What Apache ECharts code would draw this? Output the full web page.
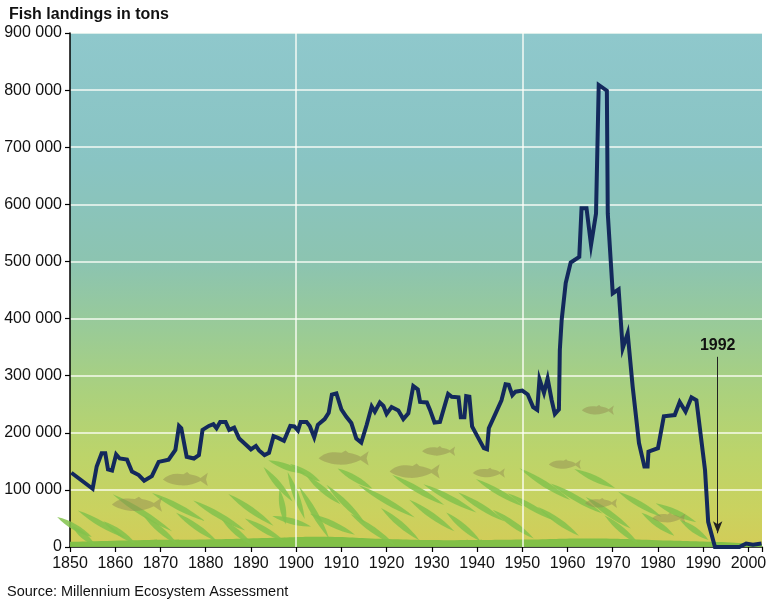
<!DOCTYPE html>
<html><head><meta charset="utf-8">
<script src="https://cdn.jsdelivr.net/npm/echarts@6/dist/echarts.min.js"></script>
<style>html,body{margin:0;padding:0;background:#fff}#c{width:773px;height:600px}</style>
</head><body><div id="c"></div>
<script>
// ---- data (years, landings in thousand tons) ----
const years = [1850.3,1855.0,1855.9,1857.0,1857.8,1858.4,1859.3,1860.2,1861.0,1862.6,1863.7,1865.2,1866.4,1868.1,1869.6,1871.8,1873.3,1874.1,1874.6,1875.8,1877.4,1878.5,1879.3,1880.7,1881.7,1882.4,1883.2,1884.4,1885.2,1886.3,1887.4,1888.9,1890.0,1891.1,1891.8,1893.0,1894.0,1895.0,1896.0,1897.3,1898.7,1899.6,1900.4,1901.0,1902.3,1903.0,1904.0,1904.8,1906.3,1907.2,1907.9,1908.9,1910.0,1911.1,1912.2,1913.3,1914.4,1915.6,1916.7,1917.4,1918.5,1919.3,1920.0,1921.1,1922.6,1923.7,1924.8,1925.9,1926.9,1927.4,1928.9,1929.6,1930.6,1931.8,1933.6,1934.4,1935.9,1936.4,1937.2,1937.6,1938.3,1938.9,1940.2,1941.5,1942.2,1942.6,1944.1,1945.4,1946.3,1947.0,1947.8,1948.5,1950.0,1951.2,1952.4,1953.3,1953.8,1954.8,1955.6,1956.5,1957.2,1958.1,1958.3,1958.7,1959.6,1960.7,1962.6,1963.1,1964.2,1965.2,1966.3,1966.9,1968.7,1968.9,1970.0,1971.3,1972.2,1973.3,1974.4,1975.8,1977.0,1977.7,1977.9,1980.0,1981.3,1983.7,1984.8,1986.1,1987.4,1988.5,1990.4,1991.1,1992.6,1998.0,1999.5,2001.0,2002.9];
const landingsK = [130,102,141,164,164,136,134,162,155,153,132,126,116,124,149,153,170,212,208,158,155,161,205,212,215,208,219,219,205,209,190,179,171,177,169,161,165,194,191,186,212,211,204,219,219,212,192,214,224,235,267,269,241,228,217,190,183,214,246,237,253,247,233,245,239,224,234,282,276,254,253,240,218,219,268,263,262,227,227,264,263,211,192,173,171,208,234,257,285,284,266,272,274,267,245,240,294,270,295,257,233,241,345,397,462,498,508,593,593,529,584,809,799,584,444,451,348,374,281,182,141,141,167,173,229,231,254,237,262,257,135,44,0,0,6,4,6];
const yTicks = [0,100000,200000,300000,400000,500000,600000,700000,800000,900000];
const xTicksYears = [1850,1860,1870,1880,1890,1900,1910,1920,1930,1940,1950,1960,1970,1980,1990,2000];
const annotationYear = 1993.2, annotationLabel = '1992';
// decorations (fish & seaweed) positioned in data units
const fishYears  = [1864.8,1875.5,1910.5,1926.2,1931.5,1942.6,1966.7,1959.4,1967.4,1982.4];
const fishValsK  = [75,119,156,133,168,130,240,145,77,51];
const fishW      = [50,45,50,50,33,32,32,32,32,33];
const leafYears = [1851,1853,1857,1861,1866,1870,1874,1878,1883,1887,1890,1893,1896,1898,1900,1902,1904,1906,1908,1911,1913,1899,1897,1917,1920,1923,1927,1930,1934,1937,1941,1945,1948,1952,1955,1958,1962,1966,1969,1972,1976,1980,1984,1988];
const leafValsK = [35,20,40,25,60,30,70,35,55,25,65,30,110,140,90,130,60,100,40,75,120,45,70,30,80,40,100,55,85,35,70,95,40,70,110,45,85,120,60,30,75,40,60,30];
const leafRot   = [60,50,60,55,58,50,62,55,60,50,55,60,40,70,20,60,30,50,65,45,60,75,10,55,60,50,60,55,62,50,58,60,55,60,58,55,60,65,55,50,60,55,65,55];
const leafLen   = [40,30,55,40,70,45,60,50,60,40,55,45,45,40,50,35,60,45,50,55,40,40,35,55,65,50,60,55,60,45,55,55,50,55,60,50,60,45,55,45,50,40,45,35];
const bandYears = [1850,1865,1880,1895,1905,1920,1935,1950,1965,1980,1992,2003];
const bandValsK = [9,12,13,16,18,14,12,13,15,12,9,5];

const fmt = v => v === 0 ? '0' : String(v).replace(/\B(?=(\d{3})+(?!\d))/g, ' ');
const FONT = '"Liberation Sans", Arial, Helvetica, sans-serif';

const lineData = years.map((y, i) => [y, landingsK[i] * 1000]);
const fishData = fishYears.map((y, i) => ({value: [y, fishValsK[i] * 1000], symbolSize: [fishW[i], Math.round(fishW[i] * 0.3)]}));
const leafData = leafYears.map((y, i) => ({value: [y, leafValsK[i] * 1000], symbolRotate: leafRot[i], symbolSize: [6, leafLen[i]]}));
const bandData = bandYears.map((y, i) => [y, bandValsK[i] * 1000]);

const chart = echarts.init(document.getElementById('c'), null, {renderer: 'canvas'});
chart.setOption({
  animation: false,
  backgroundColor: '#ffffff',
  title: [
    {text: 'Fish landings in tons', left: 4, top: 2, textStyle: {fontFamily: FONT, fontSize: 16, fontWeight: 'bold', color: '#111'}},
    {text: 'Source: Millennium Ecosystem Assessment', left: 2, top: 579, textStyle: {fontFamily: FONT, fontSize: 14.5, fontWeight: 'normal', color: '#111'}}
  ],
  grid: {
    left: 70, right: 11, top: 33, bottom: 53, show: true, borderWidth: 0,
    backgroundColor: new echarts.graphic.LinearGradient(0, 0, 0, 1, [
      {offset: 0, color: '#8fc8cc'},
      {offset: 0.25, color: '#89c4c3'},
      {offset: 0.45, color: '#8cc4b0'},
      {offset: 0.58, color: '#9acb96'},
      {offset: 0.7, color: '#abd17d'},
      {offset: 0.82, color: '#bcd46a'},
      {offset: 0.93, color: '#cad25f'},
      {offset: 1, color: '#d3cc58'}
    ])
  },
  xAxis: {
    type: 'value', min: 1850, max: 2003, interval: 10,
    axisLine: {show: true, lineStyle: {color: '#000', width: 1.5}},
    axisTick: {show: true, length: 5, lineStyle: {color: '#000', width: 1.2}},
    axisLabel: {fontFamily: FONT, fontSize: 16, color: '#111', margin: 9,
      formatter: v => xTicksYears.indexOf(v) >= 0 ? String(v) : ''},
    splitLine: {show: false}
  },
  yAxis: {
    type: 'value', min: yTicks[0], max: yTicks[yTicks.length - 1], interval: 100000,
    axisLine: {show: true, lineStyle: {color: '#000', width: 1.5}},
    axisTick: {show: true, length: 5, lineStyle: {color: '#000', width: 1.2}},
    axisLabel: {fontFamily: FONT, fontSize: 16, color: '#111', margin: 8, formatter: fmt},
    splitLine: {show: true, lineStyle: {color: 'rgba(255,255,250,0.9)', width: 1.5}}
  },
  series: [
    {
      type: 'line', data: bandData, smooth: true, showSymbol: false, silent: true, z: 1,
      lineStyle: {width: 0}, areaStyle: {color: '#7dbf47', opacity: 0.95}
    },
    {
      type: 'scatter', data: leafData, silent: true, z: 1,
      symbol: 'path://M5,0 C9,20 9,40 5,60 C1,40 1,20 5,0 Z',
      itemStyle: {color: '#83c24c', opacity: 0.85}
    },
    {
      type: 'scatter', data: fishData, silent: true, z: 2,
      symbol: 'path://M0,10 C8,3 20,1 34,3 L40,0 L44,3 C52,4 58,6 62,8 L74,1 L71,10 L74,19 L62,12 C52,16 40,19 28,18 C16,17 6,14 0,10 Z',
      itemStyle: {color: 'rgba(146,140,82,0.6)'}
    },
    {
      type: 'line', data: lineData, showSymbol: false, z: 5,
      lineStyle: {color: '#13295c', width: 4, join: 'miter'},
      markLine: {
        silent: true, symbol: ['none', 'none'],
        lineStyle: {color: 'rgba(255,255,250,0.9)', width: 1.5, type: 'solid'},
        label: {show: false},
        data: [{xAxis: 1900}, {xAxis: 1950}]
      }
    },
    {
      type: 'line', data: [], z: 6,
      markLine: {
        silent: true, symbol: ['none', 'arrow'], symbolSize: [7, 12],
        lineStyle: {color: '#222', width: 1, type: 'solid'},
        label: {show: true, position: 'start', distance: 3, formatter: annotationLabel,
          fontFamily: FONT, fontSize: 16, fontWeight: 'bold', color: '#111'},
        data: [[{coord: [annotationYear, 333000]}, {coord: [annotationYear, 24000]}]]
      }
    }
  ]
});
</script></body></html>
